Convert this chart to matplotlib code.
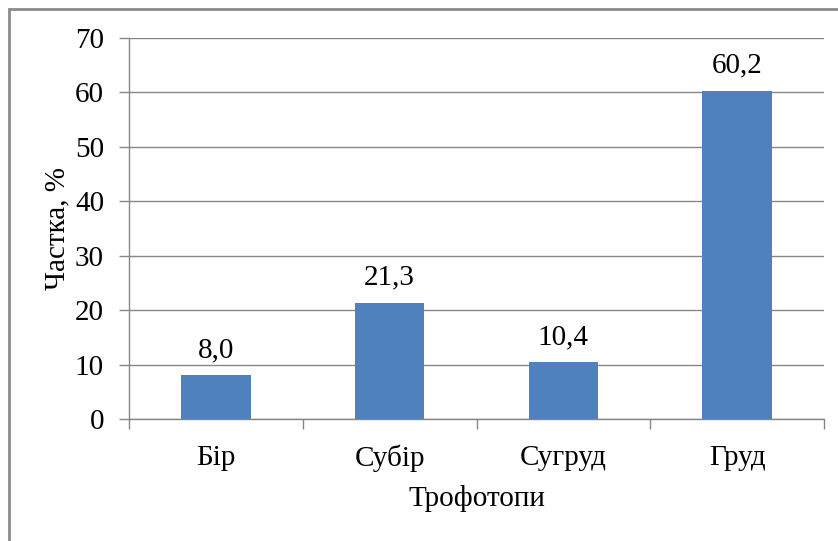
import matplotlib.pyplot as plt
import numpy as np
from matplotlib.patches import Rectangle
from matplotlib.ticker import FixedLocator

categories = ['Бір', 'Субір', 'Сугруд', 'Груд']
values = [8.0, 21.3, 10.4, 60.2]
labels = ['8,0', '21,3', '10,4', '60,2']

plt.rcParams['font.family'] = ['Liberation Serif', 'DejaVu Serif']
fs = 21
grid_c = '#868686'

fig = plt.figure(figsize=(8.38, 5.41), dpi=100)
ax = fig.add_axes([129/838, 1-419/541, (824-129)/838, (419-38)/541])

x = np.arange(len(categories))
bars = ax.bar(x, values, width=0.4, color='#4F81BD', zorder=3)

for b, lab in zip(bars, labels):
    ax.annotate(lab, (b.get_x() + b.get_width()/2, b.get_height()),
                xytext=(0, 9), textcoords='offset points',
                ha='center', va='bottom', fontsize=fs)

ax.set_xlim(-0.5, len(categories) - 0.5)
ax.set_ylim(0, 70)
ax.set_yticks(np.arange(0, 71, 10))
ax.yaxis.grid(True, color=grid_c, linewidth=1)
ax.set_axisbelow(True)

# category labels centred, tick marks on the boundaries
ax.set_xticks(x)
ax.set_xticklabels(categories, fontsize=fs)
ax.tick_params(axis='x', which='major', length=0, pad=18.5)
ax.xaxis.set_minor_locator(FixedLocator(np.arange(-0.5, len(categories), 1)))
ax.tick_params(axis='x', which='minor', length=7, color=grid_c, width=1)
ax.tick_params(axis='y', length=7, color=grid_c, width=1, labelsize=fs, pad=11)

for s in ['top', 'right']:
    ax.spines[s].set_visible(False)
for s in ['left', 'bottom']:
    ax.spines[s].set_color(grid_c)
    ax.spines[s].set_linewidth(1)

ax.set_ylabel('Частка, %', fontsize=fs, labelpad=3)
ax.set_xlabel('Трофотопи', fontsize=fs, labelpad=9)

# chart border
fig.patches.append(Rectangle((9/838, -0.1), 1.2, 1 - 9/541 + 0.1,
                             transform=fig.transFigure, fill=False,
                             edgecolor='#8a8a8a', linewidth=2))

fig.savefig('out.png', dpi=100)
